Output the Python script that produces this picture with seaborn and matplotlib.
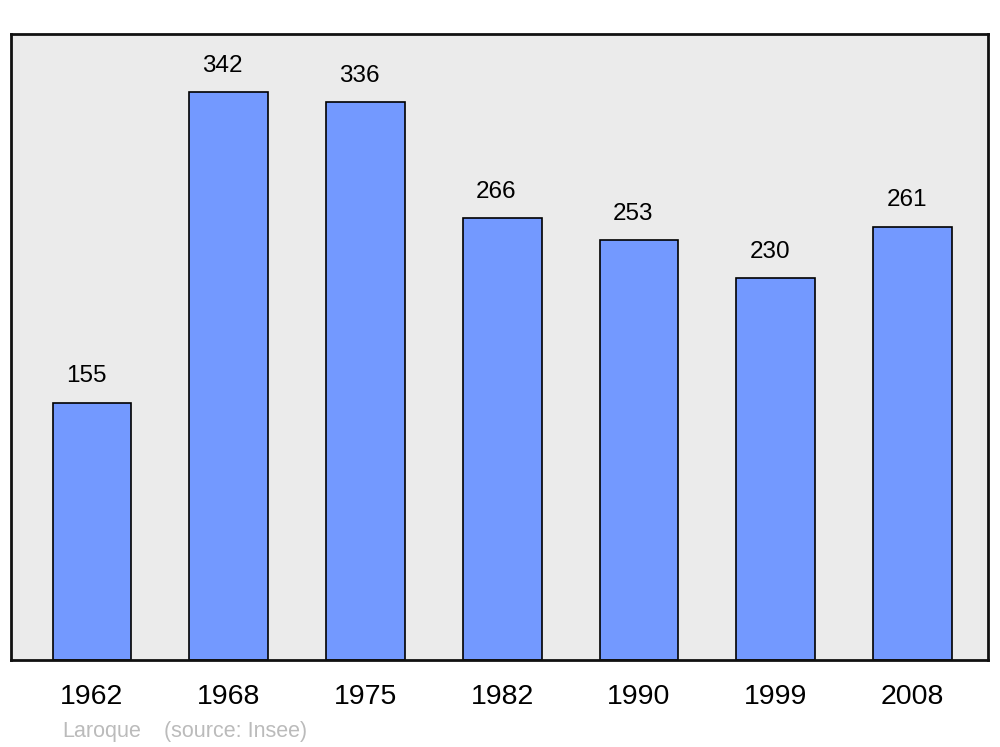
import numpy as np
import pandas as pd
import matplotlib
matplotlib.use("Agg")
import matplotlib.pyplot as plt
import seaborn as sns

# %% data
years = ["1962", "1968", "1975", "1982", "1990", "1999", "2008"]
population = [155, 342, 336, 266, 253, 230, 261]
commune = "Laroque"
source = "(source: Insee)"

df = pd.DataFrame({"year": years, "pop": population})

# %% plot
sns.set_style("white")
plt.rcParams["font.family"] = ["Liberation Sans", "DejaVu Sans"]
plt.rcParams["text.color"] = "black"
plt.rcParams["xtick.color"] = "black"

fig = plt.figure(figsize=(10, 7.47), dpi=100)
ax = fig.add_axes([0.011, 1 - 660 / 747, 0.977, 626 / 747])
ax.set_facecolor("#ebebeb")

sns.barplot(data=df, x="year", y="pop", color="#7399ff", saturation=1,
            width=0.575, edgecolor="black", linewidth=1.2, ax=ax)

# value labels sit a bit left of the bar centre, like the original
for i, v in enumerate(population):
    ax.annotate(str(v), (i, v), xytext=(-4.3, 19), textcoords="offset points",
                ha="center", va="center", fontsize=17.5, color="black")

ax.set_xlim(-0.592, 6.552)
ax.set_ylim(0, 377)
ax.set_yticks([])
ax.set_xlabel("")
ax.set_ylabel("")
ax.tick_params(axis="x", length=0, pad=17, labelsize=20.5, labelcolor="black")
for s in ax.spines.values():
    s.set_linewidth(2)
    s.set_color("#111111")

fig.text(0.062, 1 - 731 / 747, commune, color="#bbbbbb", fontsize=15.5, va="center")
fig.text(0.164, 1 - 731 / 747, source, color="#bbbbbb", fontsize=15.5, va="center")

plt.savefig("out.png", dpi=100)
plt.close()
